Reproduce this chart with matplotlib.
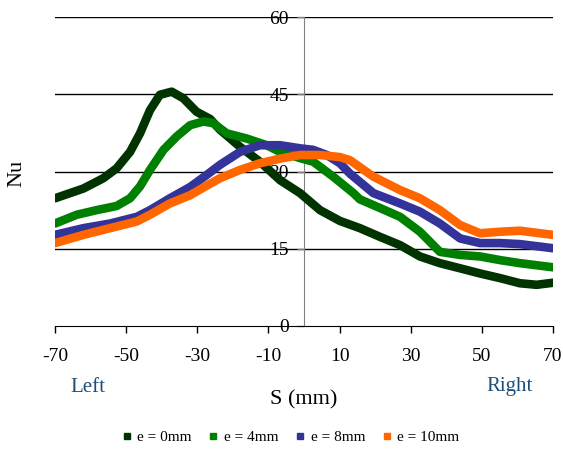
import matplotlib
import matplotlib.pyplot as plt
from matplotlib.lines import Line2D

matplotlib.use('Agg')
plt.rcParams['font.family'] = ['Liberation Serif', 'DejaVu Serif']

# e = 0mm
s_e0 = [-70, -62, -56.4, -52.7, -48.9, -46.1, -43.3, -40.5, -37.2, -33.9, -30.2, -26.4,
        -23.6, -18, -12.4, -6.7, -1.1, 4.5, 10.1, 15.7, 21.4, 27, 32.6, 38.2, 43.9,
        49.5, 55.1, 60.7, 65.4, 70]
nu_e0 = [24.8, 26.7, 28.7, 30.6, 33.8, 37.4, 41.9, 44.9, 45.5, 44.2, 41.6, 40.2,
         38.1, 34.8, 31.9, 28.3, 25.8, 22.5, 20.4, 19.0, 17.3, 15.7, 13.5, 12.2, 11.2,
         10.2, 9.3, 8.3, 8.0, 8.4]

# e = 4mm
s_e4 = [-70, -63.9, -58.3, -52.7, -48.9, -46.1, -43.3, -39.5, -35.8, -32, -28.3, -25.6,
        -21.7, -16.1, -10.5, -6.7, -1.1, 2.6, 8.2, 13.9, 15.7, 21.4, 27, 32.6, 38.2,
        43.9, 49.5, 55.1, 60.7, 70]
nu_e4 = [19.9, 21.6, 22.5, 23.3, 24.8, 27.1, 30.3, 34.2, 36.8, 39.0, 39.7, 39.4,
         37.4, 36.4, 35.1, 33.8, 32.6, 31.9, 29.0, 25.8, 24.6, 22.9, 21.2, 18.3, 14.4,
         13.8, 13.5, 12.8, 12.2, 11.4]

# e = 8mm
s_e8 = [-70, -62, -54.5, -47, -43.3, -37.7, -32, -28, -23.6, -18, -12.4, -6.7,
        -1.1, 2.6, 6.4, 10.1, 12.9, 19.5, 27, 32.6, 38.2, 43.9, 49.5, 55.1, 60.7, 70]
nu_e8 = [17.7, 19.0, 19.9, 21.2, 22.5, 24.8, 27.0, 29.0, 31.3, 33.8, 35.1, 35.1,
         34.5, 34.2, 33.2, 31.6, 29.6, 25.8, 23.8, 22.2, 19.9, 17.0, 16.1, 16.1, 15.9, 15.1]

# e = 10mm
s_e10 = [-70, -62, -54.5, -47, -43.3, -37.7, -32, -28, -23.6, -18, -12.4, -6.7,
         -1.1, 4.5, 10.1, 12.9, 19.5, 27, 32.6, 38.2, 43.9, 49.5, 55.1, 60.7, 70]
nu_e10 = [16.1, 17.7, 19.0, 20.3, 21.6, 23.8, 25.4, 27.0, 28.7, 30.3, 31.6, 32.5,
          33.2, 33.2, 32.8, 32.2, 29.0, 26.4, 24.8, 22.5, 19.6, 18.0, 18.3, 18.5, 17.7]

labels = ['e = 0mm', 'e = 4mm', 'e = 8mm', 'e = 10mm']
colors = ['#003300', '#008000', '#333399', '#FF6600']
x_ticks = [-70, -50, -30, -10, 10, 30, 50, 70]
y_ticks = [0, 15, 30, 45, 60]

fig = plt.figure(figsize=(5.63, 4.51), dpi=100)
ax = fig.add_axes([55 / 563, 1 - 326 / 451, 498 / 563, 309 / 451])

for y in y_ticks[1:]:
    ax.axhline(y, color='black', lw=1, zorder=1)

series = [(s_e0, nu_e0), (s_e4, nu_e4), (s_e8, nu_e8), (s_e10, nu_e10)]
for (sx, sy), c in zip(series, colors):
    ax.plot(sx, sy, color=c, lw=6.2, solid_capstyle='round', solid_joinstyle='round', zorder=3)

ax.set_xlim(-70, 70)
ax.set_ylim(0, 60)
ax.set_xticks(x_ticks)
ax.set_xticklabels([str(v) for v in x_ticks])
ax.set_yticks(y_ticks)
ax.spines['left'].set_position(('data', 0))
ax.spines['left'].set_color('#808080')
ax.spines['top'].set_visible(False)
ax.spines['right'].set_visible(False)
ax.spines['bottom'].set_color('black')
ax.tick_params(axis='x', direction='out', length=5, width=1, pad=11, labelsize=14)
ax.tick_params(axis='y', direction='out', length=5, width=1, color='#808080', pad=6, labelsize=14)
ax.set_facecolor('none')

fig.text(17 / 563, 1 - 173 / 451, 'Nu', rotation=90, ha='center', va='center', fontsize=16)
fig.text(304 / 563, 1 - 400 / 451, 'S (mm)', ha='center', va='center', fontsize=16)
fig.text(88 / 563, 1 - 387 / 451, 'Left', ha='center', va='center', fontsize=15, color='#1F4E79')
fig.text(510 / 563, 1 - 387 / 451, 'Right', ha='center', va='center', fontsize=15, color='#1F4E79')

handles = [Line2D([], [], ls='none', marker='s', markersize=5, color=c) for c in colors]
fig.legend(handles, labels, loc='center', bbox_to_anchor=(290 / 563, 1 - 437 / 451), ncol=4,
           frameon=False, fontsize=11, handlelength=0.8, handletextpad=0.3, columnspacing=1.0)

fig.savefig('out.png', dpi=100)
